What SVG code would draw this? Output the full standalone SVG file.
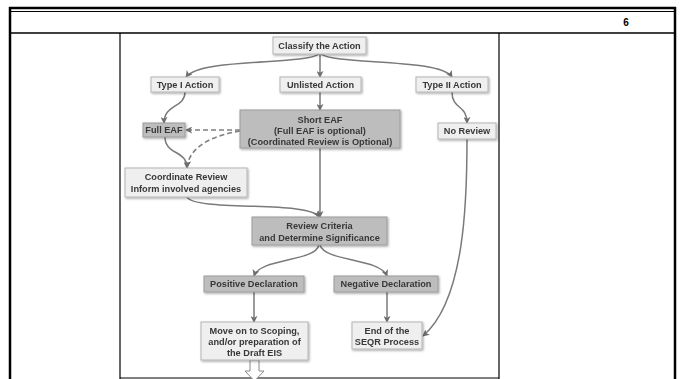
<svg xmlns="http://www.w3.org/2000/svg" width="683" height="379" viewBox="0 0 683 379">
<style>
.t{font-family:"Liberation Sans",Arial,sans-serif;font-weight:bold;font-size:9.2px;fill:#383838;text-anchor:middle}
.lt{fill:#efefef;stroke:#b5b5b5;stroke-width:1}
.dk{fill:#bdbdbd;stroke:#9c9c9c;stroke-width:1}
.c{fill:none;stroke:#7a7a7a;stroke-width:1.5;marker-end:url(#ah)}
.d{fill:none;stroke:#808080;stroke-width:1.6;stroke-dasharray:5 3;marker-end:url(#ah)}
.tb{stroke:#000;fill:none}
</style>
<defs>
<marker id="ah" viewBox="0 0 8 8" refX="7" refY="4" markerWidth="7" markerHeight="7" markerUnits="userSpaceOnUse" orient="auto">
<path d="M0,0 L8,4 L0,8 L2,4 z" fill="#6e6e6e"/>
</marker>
<filter id="sh" x="-10%" y="-20%" width="130%" height="160%">
<feDropShadow dx="1" dy="1.2" stdDeviation="0.8" flood-color="#000" flood-opacity="0.35"/>
</filter>
</defs>
<rect width="683" height="379" fill="#fff"/>
<g id="table">
<line class="tb" x1="9" y1="8" x2="676" y2="8" stroke-width="2.5"/>
<line class="tb" x1="9" y1="11.5" x2="676" y2="11.5" stroke-width="1"/>
<line class="tb" x1="10" y1="7" x2="10" y2="379" stroke-width="2.5"/>
<line class="tb" x1="675" y1="7" x2="675" y2="379" stroke-width="2.5"/>
<line class="tb" x1="10" y1="33" x2="675" y2="33" stroke-width="1.5"/>
<line class="tb" x1="120" y1="33" x2="120" y2="379" stroke-width="1.2"/>
<line class="tb" x1="499" y1="33" x2="499" y2="379" stroke-width="1.2"/>
<line class="tb" x1="120" y1="378" x2="499" y2="378" stroke-width="1.2"/>
<text x="626" y="26" style="font-family:'Liberation Sans',Arial,sans-serif;font-weight:bold;font-size:10px;text-anchor:middle">6</text>
</g>
<g id="connectors">
<path class="c" d="M319,54 C305,65 200,58 186,77"/>
<path class="c" d="M320,54 L320,77"/>
<path class="c" d="M321,54 C335,65 440,58 452,77"/>
<path class="c" d="M185,92 C185,108 164,104 164,123"/>
<path class="c" d="M320,92 L320,110"/>
<path class="c" d="M452,92 C452,110 467,104 467,123"/>
<path class="d" d="M240,130 L186,130"/>
<path class="d" d="M240,131 C215,135 190,145 187,167"/>
<path class="c" d="M165,137 C165,155 187,150 187,168"/>
<path class="c" d="M320,148 L320,217"/>
<path class="c" d="M187,197 C195,212 310,200 319,217"/>
<path class="c" d="M467,139 C467,200 465,300 423,336"/>
<path class="c" d="M319,245 C315,262 260,258 254,276"/>
<path class="c" d="M320,245 C325,262 380,258 387,276"/>
<path class="c" d="M254,292 L254,322"/>
<path class="c" d="M387,292 L387,322"/>
<path d="M250,360 L259,360 L259,371 L264,371 L254.5,381 L245,371 L250,371 Z" fill="#fff" stroke="#8a8a8a" stroke-width="1"/>
</g>
<g id="classify" filter="url(#sh)"><rect class="lt" x="273" y="37" width="93" height="17"/><text class="t" x="319.5" y="48.7">Classify the Action</text></g>
<g id="type1" filter="url(#sh)"><rect class="lt" x="151" y="77" width="68" height="15"/><text class="t" x="185" y="87.7">Type I Action</text></g>
<g id="unlisted" filter="url(#sh)"><rect class="lt" x="280" y="77" width="81" height="15"/><text class="t" x="320.5" y="87.7">Unlisted Action</text></g>
<g id="type2" filter="url(#sh)"><rect class="lt" x="416" y="77" width="72" height="15"/><text class="t" x="452" y="87.7">Type II Action</text></g>
<g id="fulleaf" filter="url(#sh)"><rect class="dk" x="143" y="123" width="42" height="14"/><text class="t" x="164" y="133.2">Full EAF</text></g>
<g id="shorteaf" filter="url(#sh)"><rect class="dk" x="240" y="110" width="160" height="38"/><text class="t" x="320" y="122.5">Short EAF</text><text class="t" x="320" y="134">(Full EAF is optional)</text><text class="t" x="320" y="145.3">(Coordinated Review is Optional)</text></g>
<g id="noreview" filter="url(#sh)"><rect class="lt" x="438" y="123" width="58" height="16"/><text class="t" x="467" y="134.2">No Review</text></g>
<g id="coordinate" filter="url(#sh)"><rect class="lt" x="125" y="168" width="122" height="29"/><text class="t" x="186" y="180.3">Coordinate Review</text><text class="t" x="186" y="191.5">Inform involved agencies</text></g>
<g id="criteria" filter="url(#sh)"><rect class="dk" x="252" y="217" width="135" height="28"/><text class="t" x="319.5" y="228.5">Review Criteria</text><text class="t" x="319.5" y="240.5">and Determine Significance</text></g>
<g id="positive" filter="url(#sh)"><rect class="dk" x="204" y="276" width="100" height="16"/><text class="t" x="254" y="287.3">Positive Declaration</text></g>
<g id="negative" filter="url(#sh)"><rect class="dk" x="334" y="276" width="104" height="16"/><text class="t" x="386" y="287.3">Negative Declaration</text></g>
<g id="moveon" filter="url(#sh)"><rect class="lt" x="201" y="322" width="107" height="38"/><text class="t" x="254.5" y="334.3">Move on to Scoping,</text><text class="t" x="254.5" y="345">and/or preparation of</text><text class="t" x="254.5" y="355.6">the Draft EIS</text></g>
<g id="endseqr" filter="url(#sh)"><rect class="lt" x="352" y="322" width="70" height="27"/><text class="t" x="387" y="333.5">End of the</text><text class="t" x="387" y="344.5">SEQR Process</text></g>
</svg>
